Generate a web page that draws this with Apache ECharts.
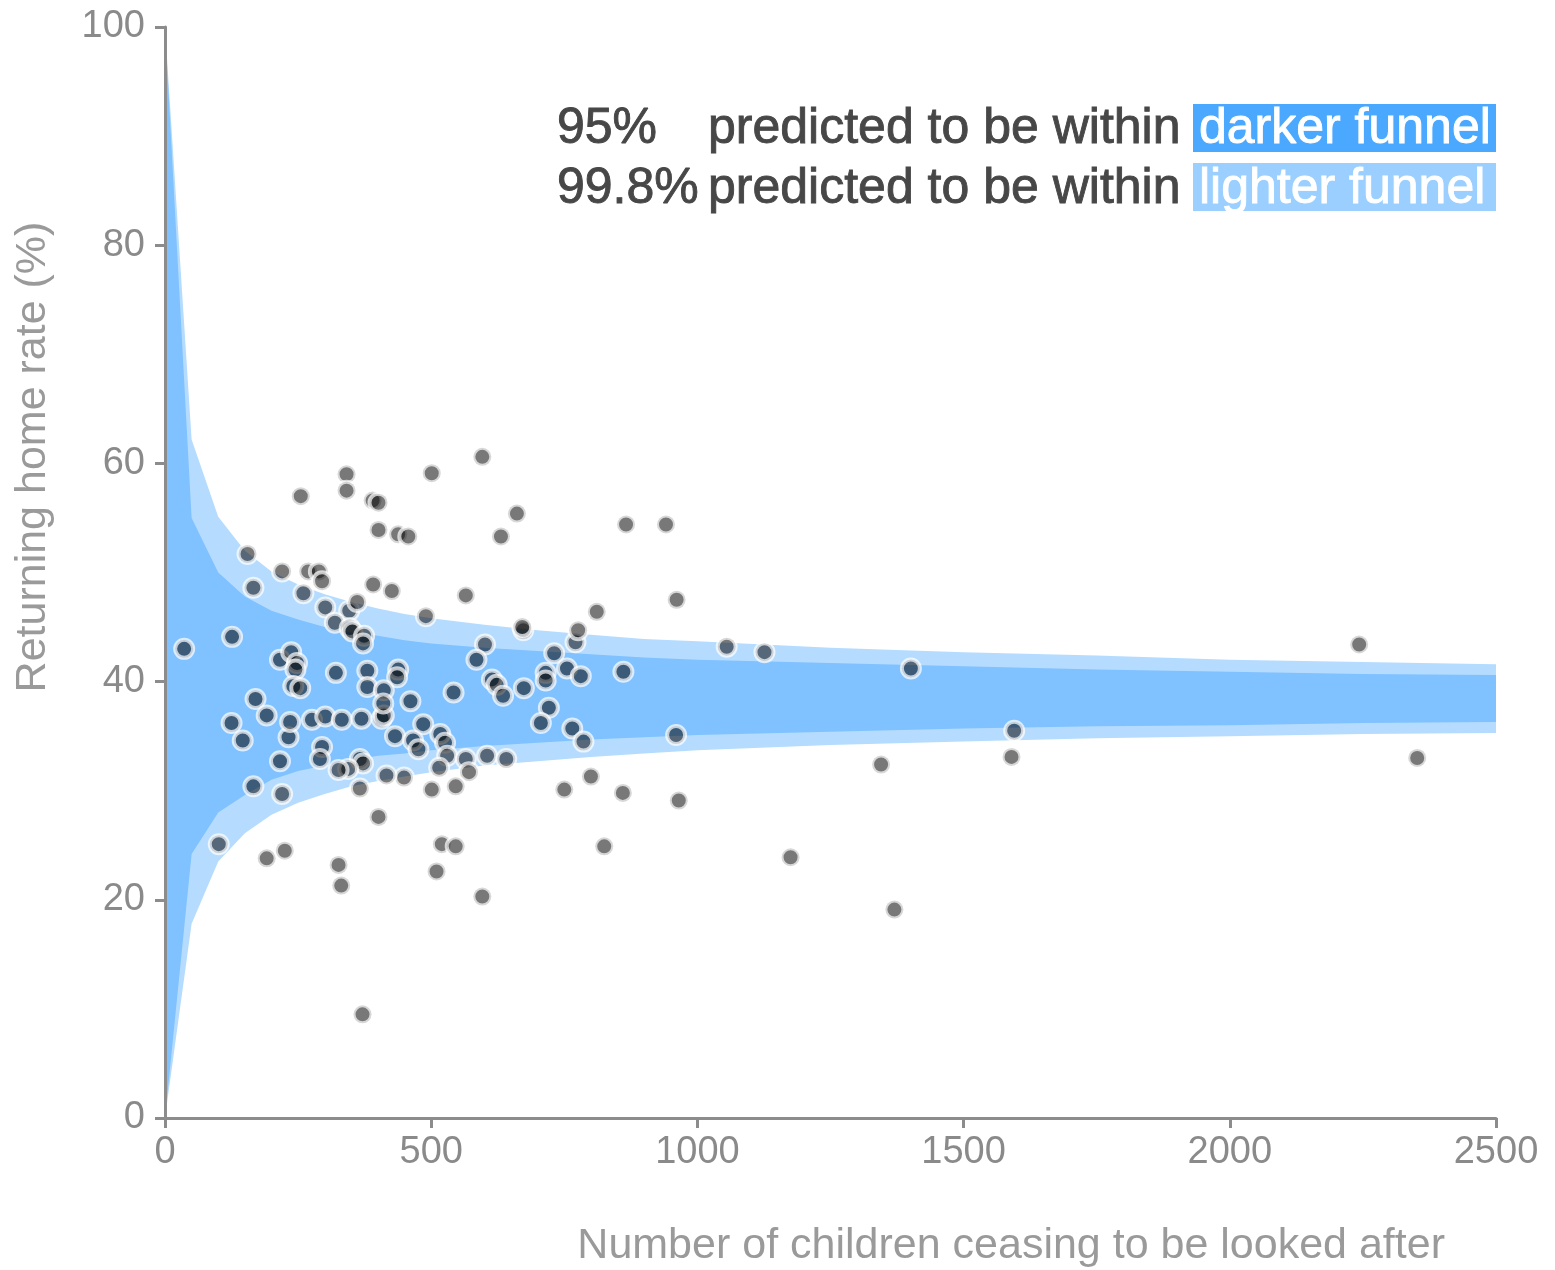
<!DOCTYPE html>
<html>
<head>
<meta charset="utf-8">
<title>Returning home rate funnel plot</title>
<script src="https://cdn.jsdelivr.net/npm/echarts@6/dist/echarts.min.js"></script>
<style>
  html, body { margin: 0; padding: 0; background: #ffffff; }
  #chart { width: 1555px; height: 1270px; }
</style>
</head>
<body>
<div id="chart"></div>
<script>
// Funnel limits, sampled along the number of children
const funnelN      = [0, 50, 100, 150, 200, 250, 300, 350, 400, 450, 500, 600, 700, 800, 900, 1000, 1250, 1500, 1750, 2000, 2250, 2500];
const lightUpper   = [100, 62.2, 55.1, 52.0, 50.1, 48.9, 48.0, 47.3, 46.7, 46.2, 45.8, 45.2, 44.7, 44.3, 43.9, 43.7, 43.1, 42.7, 42.4, 42.0, 41.8, 41.6];
const darkUpper    = [100, 55.0, 50.0, 47.8, 46.5, 45.7, 45.0, 44.5, 44.2, 43.8, 43.5, 43.1, 42.8, 42.5, 42.2, 42.0, 41.7, 41.4, 41.1, 40.9, 40.7, 40.6];
const darkLower    = [0, 24.2, 28.0, 29.6, 31.0, 31.8, 32.3, 32.8, 33.2, 33.4, 33.7, 34.1, 34.4, 34.7, 34.9, 35.1, 35.4, 35.7, 35.9, 36.0, 36.2, 36.3];
const lightLower   = [0, 17.8, 23.5, 26.1, 27.8, 28.9, 29.7, 30.4, 30.9, 31.3, 31.7, 32.3, 32.7, 33.1, 33.4, 33.7, 34.2, 34.5, 34.8, 35.0, 35.2, 35.3];

// Local authorities: children ceasing to be looked after, and rate returning home (%)
const children = [
  36, 126, 166, 155, 125, 146, 170, 191, 166, 220, 101, 216, 237, 248, 245, 241, 254, 216, 232, 295,
  291, 260, 301, 346, 319, 347, 352, 374, 372, 321, 276, 301, 332, 369, 407, 411, 235, 380, 380, 438,
  436, 411, 410, 432, 449, 416, 366, 372, 344, 326, 366, 461, 485, 466, 476, 517, 526, 530, 515, 565,
  605, 641, 571, 542, 601, 585, 614, 623, 635, 674, 715, 715, 721, 706, 731, 771, 755, 781, 861, 765,
  786, 960, 1595, 1401, 1126, 1055, 2243, 2352, 1590, 1345, 965, 1175, 1370, 941, 961, 596, 501, 341, 341, 255,
  390, 401, 661, 401, 631, 866, 438, 457, 220, 269, 289, 295, 391, 426, 361, 565, 490, 811, 673, 671,
  776, 331, 326, 191, 225, 401, 371, 501, 546, 750, 800, 860, 520, 546, 825, 510, 596
];
const returnRate = [
  43.0, 44.1, 48.6, 51.7, 36.2, 34.6, 38.4, 36.9, 30.4, 29.7, 25.1, 42.0, 42.7, 41.7, 41.1, 39.6, 39.4, 32.7, 34.9, 34.0,
  32.9, 48.1, 46.8, 46.5, 45.4, 44.9, 44.6, 44.2, 43.5, 40.8, 36.5, 36.8, 36.5, 36.6, 36.6, 36.9, 36.3, 41.0, 39.5, 41.1,
  40.4, 39.2, 38.0, 35.0, 31.2, 31.4, 32.9, 32.5, 32.0, 31.9, 30.2, 38.2, 36.1, 34.6, 33.8, 35.2, 34.4, 33.2, 32.1, 32.9,
  33.2, 32.9, 31.7, 39.0, 43.4, 42.0, 40.2, 39.7, 38.7, 39.4, 40.8, 40.1, 37.6, 36.2, 42.6, 43.6, 41.2, 40.5, 40.9, 35.7,
  34.5, 35.1, 35.5, 41.2, 42.7, 43.2, 43.4, 33.0, 33.1, 32.4, 29.1, 23.9, 19.1, 54.4, 47.5, 60.6, 59.1, 59.0, 57.5, 57.0,
  56.6, 56.4, 55.4, 53.9, 53.3, 54.4, 53.5, 53.3, 50.1, 50.1, 50.1, 49.2, 48.9, 48.3, 47.3, 47.9, 46.0, 46.4, 44.7, 45.0,
  44.7, 21.3, 23.2, 23.8, 24.5, 27.6, 9.5, 30.1, 30.4, 30.1, 31.3, 29.8, 25.1, 24.9, 24.9, 22.6, 20.3
];

const xTicks = { min: 0, max: 2500, interval: 500 };
const yTicks = { min: 0, max: 100, interval: 20 };

const FONT = '"Liberation Sans", "Helvetica Neue", Arial, sans-serif';
const AXIS_GREY = '#8c8c8c';
const LABEL_GREY = '#8a8a8a';
const TITLE_GREY = '#9a9a9a';
const NOTE_TEXT = '#474747';

// Band polygon: upper edge left-to-right, then lower edge right-to-left
function bandRenderer(upper, lower, color) {
  return function (params, api) {
    const pts = [];
    for (let i = 0; i < funnelN.length; i++) pts.push(api.coord([funnelN[i], upper[i]]));
    for (let i = funnelN.length - 1; i >= 0; i--) pts.push(api.coord([funnelN[i], lower[i]]));
    return { type: 'polygon', shape: { points: pts }, style: { fill: color } };
  };
}

const points = children.map((n, i) => [n, returnRate[i]]);

const axisCommon = {
  type: 'value',
  z: 5,
  axisLine: { show: true, lineStyle: { color: AXIS_GREY, width: 3 } },
  axisTick: { show: true, length: 10, lineStyle: { color: AXIS_GREY, width: 3 } },
  axisLabel: { color: LABEL_GREY, fontSize: 38, fontFamily: FONT, formatter: v => String(v) },
  splitLine: { show: false }
};

// Legend note text, drawn a touch heavier than the regular face
function note(text, x, y, fill) {
  return { type: 'text', x: x, y: y,
    style: { text: text, fill: fill, stroke: fill, lineWidth: 0.9, font: '50px ' + FONT, textAlign: 'left', textVerticalAlign: 'middle' } };
}

const chart = echarts.init(document.getElementById('chart'), null, { renderer: 'canvas' });
chart.setOption({
  animation: false,
  backgroundColor: '#ffffff',
  grid: { left: 165, right: 59, top: 27, bottom: 152 },
  xAxis: Object.assign({}, axisCommon, {
    min: xTicks.min, max: xTicks.max, interval: xTicks.interval,
    axisLabel: Object.assign({}, axisCommon.axisLabel, { margin: 16 })
  }),
  yAxis: Object.assign({}, axisCommon, {
    min: yTicks.min, max: yTicks.max, interval: yTicks.interval,
    axisLabel: Object.assign({}, axisCommon.axisLabel, { margin: 20 })
  }),
  series: [
    { type: 'custom', name: '99.8% limits', z: 1, silent: true, data: [0],
      renderItem: bandRenderer(lightUpper, lightLower, '#b5dcff') },
    { type: 'custom', name: '95% limits', z: 2, silent: true, data: [0],
      renderItem: bandRenderer(darkUpper, darkLower, '#80c1ff') },
    { type: 'scatter', name: 'Local authorities', z: 3, data: points,
      symbol: 'circle', symbolSize: 18,
      itemStyle: { color: 'rgba(0,0,0,0.53)', borderColor: 'rgba(255,255,255,0.7)', borderWidth: 4, opacity: 1 } }
  ],
  graphic: [
    { type: 'text', x: 33, y: 457, rotation: Math.PI / 2,
      style: { text: 'Returning home rate (%)', fill: TITLE_GREY, font: '43px ' + FONT, textAlign: 'center', textVerticalAlign: 'middle' } },
    { type: 'text', x: 1445, y: 1246,
      style: { text: 'Number of children ceasing to be looked after', fill: TITLE_GREY, font: '43px ' + FONT, textAlign: 'right', textVerticalAlign: 'middle' } },

    { type: 'rect', shape: { x: 1193, y: 104, width: 303, height: 48 }, style: { fill: '#4aa8ff' } },
    { type: 'rect', shape: { x: 1193, y: 163, width: 303, height: 48 }, style: { fill: '#9acfff' } },

    note('95%', 557, 129, NOTE_TEXT),
    note('predicted to be within', 708, 129, NOTE_TEXT),
    note('darker funnel', 1199, 129, '#ffffff'),
    note('99.8%', 557, 189, NOTE_TEXT),
    note('predicted to be within', 708, 189, NOTE_TEXT),
    note('lighter funnel', 1199, 189, '#ffffff')
  ]
});
</script>
</body>
</html>
